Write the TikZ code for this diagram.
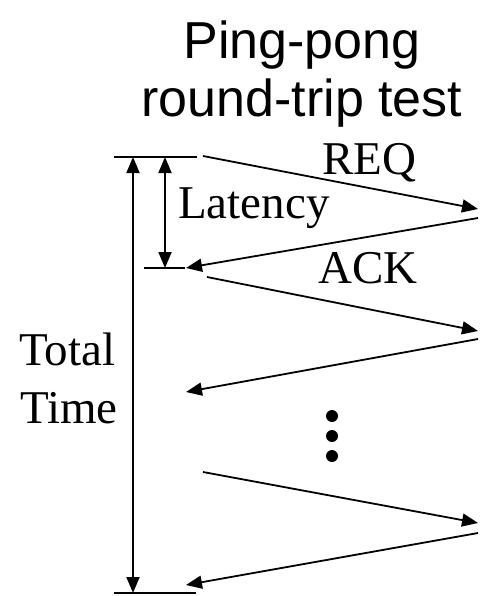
\documentclass[tikz,border=0pt]{standalone}
\usepackage{fontspec}
\setmainfont{Liberation Serif}
\newfontfamily\titlefont{Liberation Sans}
\usetikzlibrary{arrows.meta}
\tikzset{
  msg/.style={line width=1.8pt,-{Triangle[length=16pt,width=13pt]}},
  span/.style={line width=1.8pt,{Triangle[length=16pt,width=13pt]}-{Triangle[length=16pt,width=13pt]}},
  tick/.style={line width=1.8pt},
  lbl/.style={inner sep=0pt,anchor=base west,font=\fontsize{47}{50}\selectfont},
}
\begin{document}
\begin{tikzpicture}[x=1pt,y=-1pt]
\useasboundingbox (0,0) rectangle (479,596);
% title
\node (title) [inner sep=0pt,anchor=base,align=center,font=\titlefont\fontsize{52}{58}\selectfont] at (302,117) {Ping-pong\\round-trip test};
% time marks
\coordinate (top) at (133,157);
\coordinate (bot) at (133,593);
\coordinate (lattop) at (165,157);
\coordinate (latbot) at (165,268);
\draw [tick] (114,157) -- (197,157);
\draw [tick] (144,268) -- (185,268);
\draw [tick] (114,593) -- (196,593);
\draw [span] (top) -- (bot);
\draw [span] (lattop) -- (latbot);
% messages
\coordinate (s1) at (203,156);
\coordinate (e1) at (478,209);
\coordinate (s2) at (478,218);
\coordinate (e2) at (186,268);
\coordinate (s3) at (207,277);
\coordinate (e3) at (478,331);
\coordinate (s4) at (478,339);
\coordinate (e4) at (186,392);
\coordinate (s5) at (203,472);
\coordinate (e5) at (478,523);
\coordinate (s6) at (478,533);
\coordinate (e6) at (186,585);
\draw [msg] (s1) -- (e1);
\draw [msg] (s2) -- (e2);
\draw [msg] (s3) -- (e3);
\draw [msg] (s4) -- (e4);
\draw [msg] (s5) -- (e5);
\draw [msg] (s6) -- (e6);
% labels
\node (req) [lbl] at (322,175) {REQ};
\node (ack) [lbl] at (318,283) {ACK};
\node (latency) [lbl] at (178,218) {Latency};
\node (total) [lbl] at (19,365) {Total};
\node (time) [lbl] at (20,423) {Time};
% dots
\foreach \y in {416,436,456}
  \fill (332,\y) circle (6pt);
\end{tikzpicture}
\end{document}
